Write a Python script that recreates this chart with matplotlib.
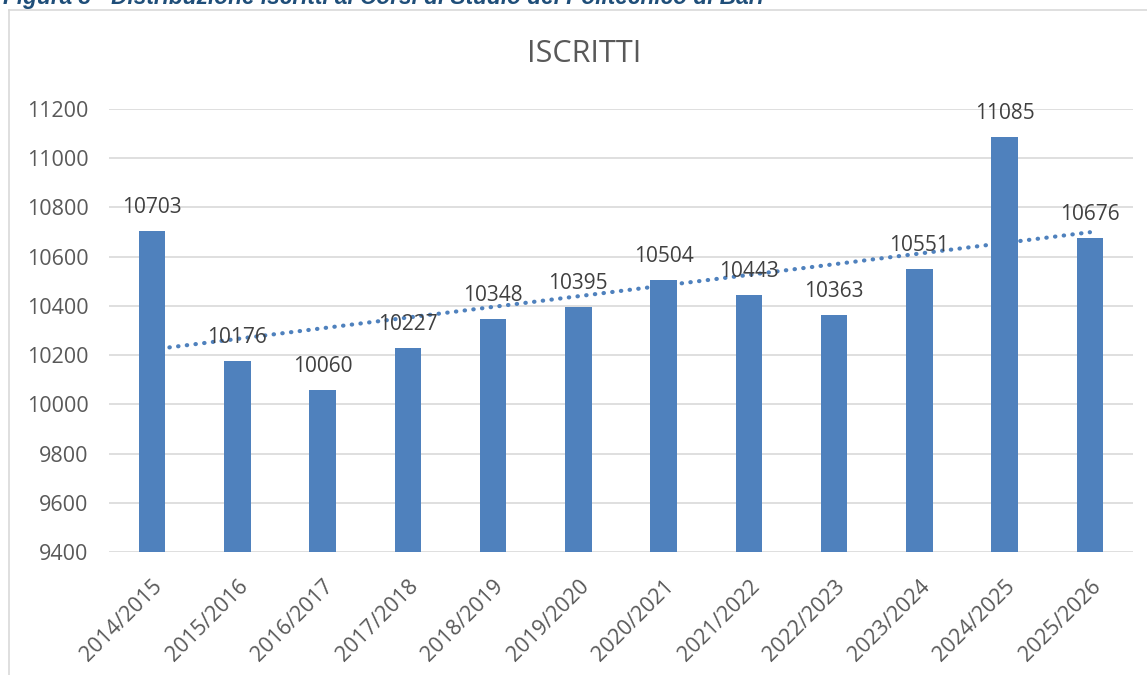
import numpy as np
import matplotlib
matplotlib.use("Agg")
import matplotlib.pyplot as plt
from matplotlib.lines import Line2D

# ---- data ----
categories = ["2014/2015", "2015/2016", "2016/2017", "2017/2018", "2018/2019", "2019/2020",
              "2020/2021", "2021/2022", "2022/2023", "2023/2024", "2024/2025", "2025/2026"]
iscritti = [10703, 10176, 10060, 10227, 10348, 10395, 10504, 10443, 10363, 10551, 11085, 10676]
y_ticks = [9400, 9600, 9800, 10000, 10200, 10400, 10600, 10800, 11000, 11200]
title = "ISCRITTI"
caption = "Figura 3 - Distribuzione iscritti ai Corsi di Studio del Politecnico di Bari"

W, H = 1147, 675
BAR = "#4F81BD"
GRID = "#D9D9D9"
TICK = "#595959"
LABEL = "#404040"
FONT = "Open Sans"

fig = plt.figure(figsize=(W / 100, H / 100), dpi=100)
fig.patch.set_facecolor("white")

def fx(px):
    return px / W

def fy(py):
    return 1 - py / H

# outer chart border (partially visible)
fig.add_artist(Line2D([fx(9), fx(9)], [fy(10), fy(676)], color=GRID, lw=1.2, transform=fig.transFigure))
fig.add_artist(Line2D([fx(9), fx(1148)], [fy(10), fy(10)], color=GRID, lw=1.2, transform=fig.transFigure))

# caption (cut at top, as in the source page)
fig.text(fx(3), fy(4), caption, fontsize=16.3, fontweight="bold", fontstyle="italic",
         color="#1F4E79", family="Liberation Sans", ha="left", va="baseline")

left, right, top, bottom = 109.4, 1132.6, 109, 552
ax = fig.add_axes([fx(left), fy(bottom), fx(right - left), (bottom - top) / H])

x = np.arange(len(categories))
ax.bar(x, iscritti, width=0.31, color=BAR, zorder=3)

# linear trendline
coef = np.polyfit(x + 1, iscritti, 1)
xt = np.array([x[0], x[-1]])
ax.plot(xt, np.polyval(coef, xt + 1), color=BAR, lw=3, linestyle=(0, (0.1, 2.0)),
        dash_capstyle="round", zorder=4)

for xi, v in zip(x, iscritti):
    ax.annotate(str(v), (xi, v), xytext=(0, 13), textcoords="offset points",
                ha="center", va="baseline", fontsize=15, color=LABEL, family=FONT, zorder=5)

ax.set_xlim(-0.5, len(categories) - 0.5)
ax.set_ylim(y_ticks[0], y_ticks[-1])
ax.set_yticks(y_ticks)
ax.set_yticklabels([str(t) for t in y_ticks], fontsize=15.5, color=TICK, family=FONT)
ax.set_xticks(x)
ax.set_xticklabels(categories, rotation=45, ha="right", va="top", rotation_mode="anchor",
                   fontsize=15.5, color=TICK, family=FONT)
ax.tick_params(axis="y", length=0, pad=15)
ax.tick_params(axis="x", length=0, pad=17)
ax.grid(axis="y", color=GRID, lw=1.2, zorder=0)
ax.set_axisbelow(True)
for s in ax.spines.values():
    s.set_visible(False)

fig.text(fx(584), fy(54), title, fontsize=22, color=TICK, family=FONT, ha="center", va="center")

fig.savefig("out.png", dpi=100)
